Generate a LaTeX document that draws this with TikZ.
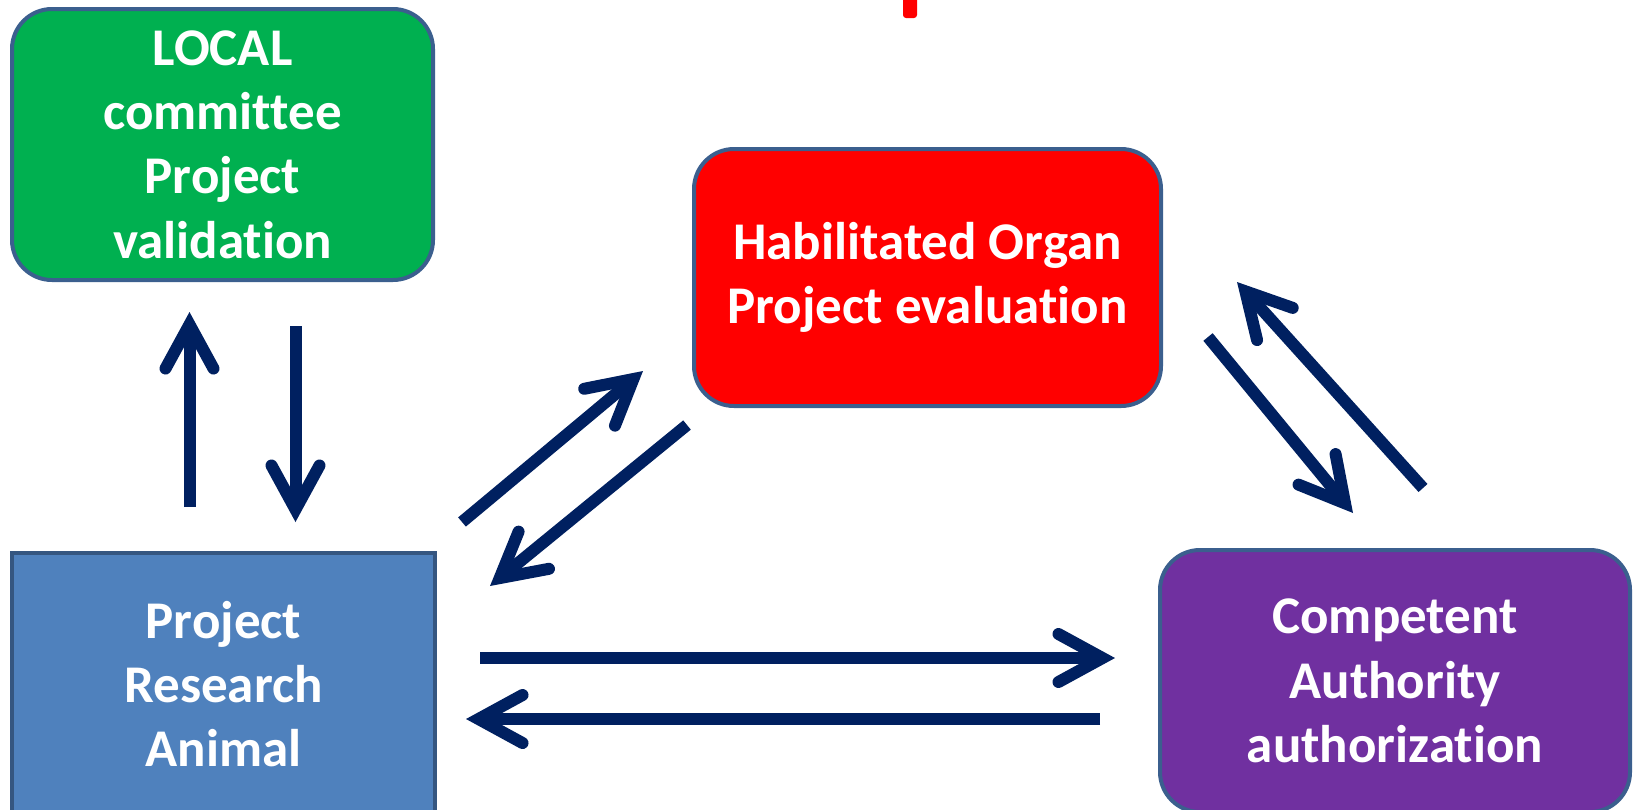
\documentclass[tikz,border=0pt]{standalone}
\usepackage{fontspec}
\setmainfont{Carlito}[Ligatures=NoCommon]
\usetikzlibrary{arrows.meta}
\definecolor{navy}{HTML}{002060}
\definecolor{boxedge}{HTML}{3B5F8E}
\definecolor{cgreen}{HTML}{00B050}
\definecolor{cred}{HTML}{FF0000}
\definecolor{cpurple}{HTML}{7030A0}
\definecolor{cblue}{HTML}{4F81BD}
\tikzset{
  stage/.style={draw=boxedge, line width=2pt, text=white, align=center,
    font=\fontsize{26.5}{32.2}\selectfont\bfseries, inner sep=0pt},
  roundstage/.style={stage, rounded corners=20pt},
  flow/.style={draw=navy, line width=6pt,
    -{Straight Barb[length=22pt, width=24pt, line cap=round, line join=miter]}},
}
\begin{document}
\begin{tikzpicture}[x=0.5pt, y=-0.5pt]
\useasboundingbox (0,0) rectangle (1636,809);
\begin{scope}
\clip (0,0) rectangle (1636,809);
\fill[cred, rounded corners=1.5pt] (903,-10) rectangle (917,18);
\node[roundstage, fill=cgreen, minimum width=210.5pt, minimum height=135.5pt] (local) at (222.5,144.5) {LOCAL\\committee\\Project\\validation};
\node[roundstage, fill=cred, minimum width=233.5pt, minimum height=128.5pt] (organ) at (927.5,277.5) {Habilitated Organ\\Project evaluation};
\node[stage, fill=cblue, draw=boxedge!90!black, minimum width=211.5pt, minimum height=131pt] (research) at (223.5,684) {Project\\Research\\Animal};
\node[roundstage, fill=cpurple, minimum width=235pt, minimum height=131pt] (authority) at (1395,681) {Competent\\Authority\\authorization};
\end{scope}
% connector end points
\coordinate (a1s) at (189.5,507); \coordinate (a1e) at (189.5,312);
\coordinate (a2s) at (295.5,326); \coordinate (a2e) at (295.5,522);
\coordinate (a3s) at (462,522);   \coordinate (a3e) at (643,371);
\coordinate (a4s) at (687,425);   \coordinate (a4e) at (490,586);
\coordinate (a5s) at (1208,337);  \coordinate (a5e) at (1353,513);
\coordinate (a6s) at (1423,488);  \coordinate (a6e) at (1237,282);
\coordinate (a7s) at (480,658);   \coordinate (a7e) at (1115,658);
\coordinate (a8s) at (1100,719);  \coordinate (a8e) at (466,719);
\draw[flow] (a1s) -- (a1e);
\draw[flow] (a2s) -- (a2e);
\draw[flow] (a3s) -- (a3e);
\draw[flow] (a4s) -- (a4e);
\draw[flow] (a5s) -- (a5e);
\draw[flow] (a6s) -- (a6e);
\draw[flow] (a7s) -- (a7e);
\draw[flow] (a8s) -- (a8e);
\end{tikzpicture}
\end{document}
